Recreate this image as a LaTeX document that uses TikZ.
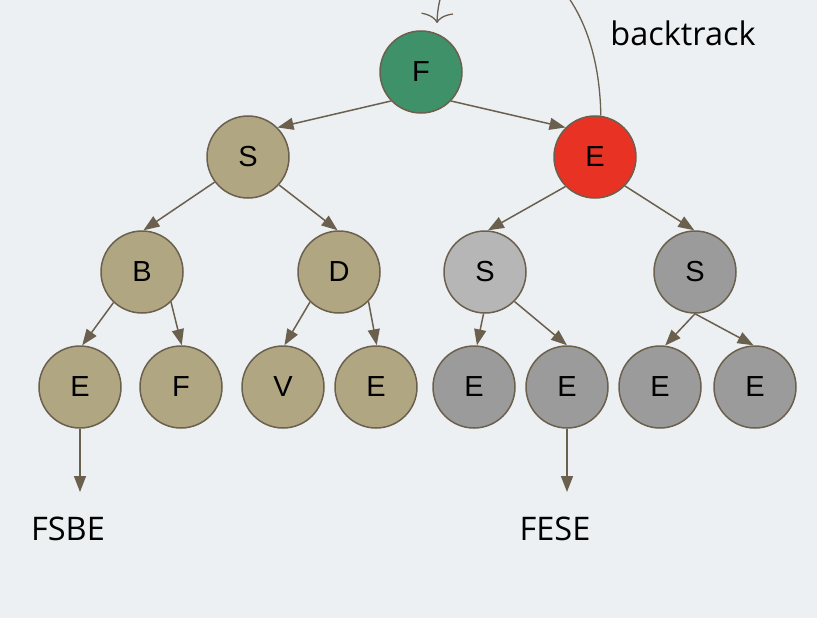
\documentclass[tikz,border=0pt]{standalone}
\usepackage{fontspec}
\setmainfont{Liberation Sans}
\newfontfamily\labfont{Open Sans}
\usetikzlibrary{arrows.meta}
\definecolor{bgc}{RGB}{236,240,243}
\definecolor{edgec}{RGB}{107,96,78}
\definecolor{greenc}{RGB}{62,145,105}
\definecolor{redc}{RGB}{232,50,36}
\definecolor{tanc}{RGB}{176,166,130}
\definecolor{lgrayc}{RGB}{182,182,182}
\definecolor{dgrayc}{RGB}{155,155,155}
\tikzset{
  tnode/.style={circle, draw=edgec, line width=1.5pt, minimum size=82pt, inner sep=0pt, font=\fontsize{29}{31}\selectfont, text=black},
  edge/.style={draw=edgec, line width=1.5pt, -{Triangle[length=16pt,width=12pt]}},
  lab/.style={font=\labfont\fontsize{32.5}{35}\selectfont, text=black, inner sep=0pt}
}
\begin{document}
\begin{tikzpicture}[x=1pt,y=-1pt]
\fill[bgc] (0,0) rectangle (817,618);
\useasboundingbox (0,0) rectangle (817,618);
\clip (0,0) rectangle (817,618);
\node[tnode, fill=greenc] (F) at (421,72) {F};
\node[tnode, fill=tanc] (S1) at (248,157) {S};
\node[tnode, fill=redc] (E1) at (595,157) {E};
\node[tnode, fill=tanc] (B) at (142,272) {B};
\node[tnode, fill=tanc] (D) at (339,272) {D};
\node[tnode, fill=lgrayc] (S2) at (485,272) {S};
\node[tnode, fill=dgrayc] (S3) at (695,272) {S};
\node[tnode, fill=tanc] (L1) at (80,387) {E};
\node[tnode, fill=tanc] (L2) at (181,387) {F};
\node[tnode, fill=tanc] (L3) at (283,387) {V};
\node[tnode, fill=tanc] (L4) at (376,387) {E};
\node[tnode, fill=dgrayc] (L5) at (474,387) {E};
\node[tnode, fill=dgrayc] (L6) at (567,387) {E};
\node[tnode, fill=dgrayc] (L7) at (660,387) {E};
\node[tnode, fill=dgrayc] (L8) at (755,387) {E};
\node[lab] (t1) at (683,33) {backtrack};
\node[lab] (t2) at (68,529) {FSBE};
\node[lab] (t3) at (555,529) {FESE};
\coordinate (a1) at (80,492);
\coordinate (a2) at (567,492);
\coordinate (bt) at (437,23);
\draw[edge] (F.224) -- (S1.45);
\draw[edge] (F.316) -- (E1.135);
\draw[edge] (S1.217) -- (B.88);
\draw[edge] (S1.318) -- (D.92);
\draw[edge] (E1.225) -- (S2.86);
\draw[edge] (E1.316) -- (S3.91);
\draw[edge] (B.227) -- (L1.87);
\draw[edge] (B.314) -- (L2.89);
\draw[edge] (D.226) -- (L3.88);
\draw[edge] (D.315) -- (L4.89);
\draw[edge] (S2.268) -- (L5.86);
\draw[edge] (S2.315) -- (L6.90);
\draw[edge] (S3.270) -- (L7.83);
\draw[edge] (S3.270) -- (L8.92);
\draw[edge] (L1.south) -- (a1);
\draw[edge] (L6.south) -- (a2);
\draw[draw=edgec, line width=1.3pt, -{Computer Modern Rightarrow[length=10pt,width=32pt]}] (E1.82) .. controls (598,-70) and (440,-90) .. (bt);
\end{tikzpicture}
\end{document}
